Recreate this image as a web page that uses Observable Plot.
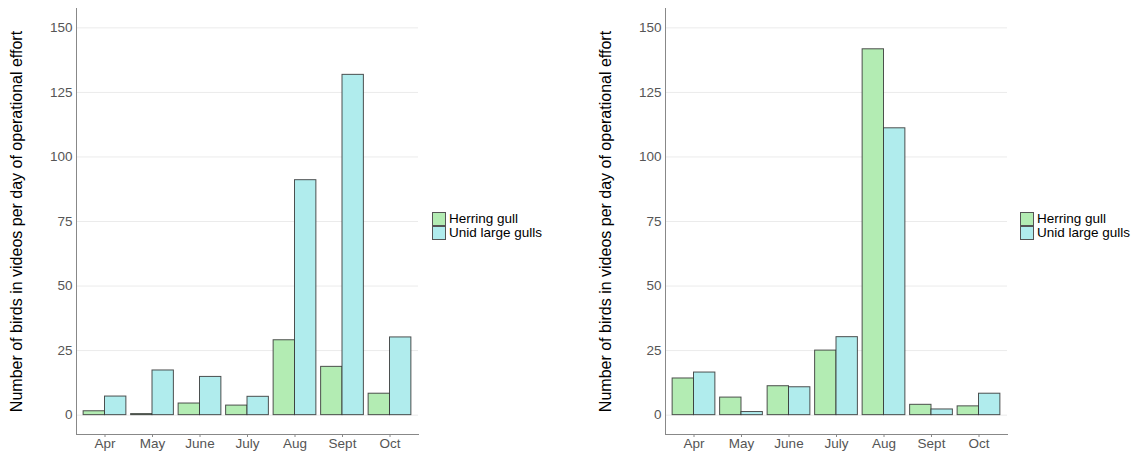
<!DOCTYPE html>
<html>
<head>
<meta charset="utf-8">
<script src="https://cdn.jsdelivr.net/npm/d3@7"></script>
<script src="https://cdn.jsdelivr.net/npm/@observablehq/plot@0.6"></script>
<style>
  html, body { margin: 0; padding: 0; background: #fff; }
  #wrap { position: relative; width: 1133px; height: 451px; font-family: "Liberation Sans", Arial, sans-serif; }
  .panel { position: absolute; top: 0; }
  .legend { position: absolute; top: 212px; font-size: 13.5px; color: #000; line-height: 14px; white-space: nowrap; }
  .legend div { display: flex; align-items: center; height: 14px; }
  .legend span.sw { display: inline-block; width: 12px; height: 12px; border: 1px solid #555; margin-right: 3px; }
</style>
</head>
<body>
<div id="wrap"></div>
<script>
// Months on the x axis
const months = ["Apr", "May", "June", "July", "Aug", "Sept", "Oct"];
const species = ["Herring gull", "Unid large gulls"];
const speciesColors = ["#b3ecb3", "#b0eced"];
const yTicks = [0, 25, 50, 75, 100, 125, 150];
const yTitle = "Number of birds in videos per day of operational effort";

// Birds per day of operational effort, first site
const herringA = [1.5, 0.4, 4.5, 3.7, 29.0, 18.7, 8.3];
const unidA = [7.2, 17.3, 14.8, 7.1, 91.0, 131.8, 30.1];

// Birds per day of operational effort, second site
const herringB = [14.2, 6.8, 11.2, 25.0, 141.7, 4.0, 3.4];
const unidB = [16.5, 1.2, 10.8, 30.2, 111.1, 2.2, 8.3];

function rows(herring, unid) {
  const out = [];
  months.forEach((m, i) => {
    out.push({month: m, i, series: 0, species: species[0], value: herring[i]});
    out.push({month: m, i, series: 1, species: species[1], value: unid[i]});
  });
  return out;
}

// Dodged bars: each month occupies 0.9 of a unit band, split between the two species
function chart(data) {
  return Plot.plot({
    width: 430,
    height: 451,
    marginLeft: 76,
    marginRight: 12,
    marginTop: 8,
    marginBottom: 17,
    style: {fontFamily: "Liberation Sans, Arial, sans-serif", background: "#fff"},
    x: {domain: [-0.6, 6.6]},
    y: {domain: [-7.5, 157.5]},
    color: {domain: species, range: speciesColors},
    marks: [
      Plot.gridY(yTicks, {stroke: "#ebebeb", strokeOpacity: 1, strokeWidth: 1}),
      Plot.rectY(data, {
        x1: d => d.i - 0.45 + d.series * 0.45,
        x2: d => d.i + d.series * 0.45,
        y1: 0,
        y2: "value",
        fill: "species",
        stroke: "#333",
        strokeOpacity: 0.85,
        strokeWidth: 1
      }),
      Plot.axisY(yTicks, {
        tickSize: 0,
        tickPadding: 4,
        fontSize: 13.5,
        color: "#555",
        label: yTitle,
        labelAnchor: "center",
        labelArrow: "none",
        labelOffset: 66
      }),
      Plot.axisX(d3.range(months.length), {
        tickFormat: i => months[i],
        tickSize: 3,
        tickPadding: 1,
        fontSize: 13.5,
        color: "#555",
        stroke: "#888",
        label: null
      }),
      Plot.frame({anchor: "left", stroke: "#888"}),
      Plot.frame({anchor: "bottom", stroke: "#888"})
    ]
  });
}

function legend() {
  const el = document.createElement("div");
  el.className = "legend";
  species.forEach((s, k) => {
    const row = document.createElement("div");
    const sw = document.createElement("span");
    sw.className = "sw";
    sw.style.background = speciesColors[k];
    row.appendChild(sw);
    row.appendChild(document.createTextNode(s));
    el.appendChild(row);
  });
  return el;
}

const wrap = document.getElementById("wrap");
[[rows(herringA, unidA), 0, 432], [rows(herringB, unidB), 589, 431]].forEach(([data, left, legendLeft]) => {
  const p = document.createElement("div");
  p.className = "panel";
  p.style.left = left + "px";
  const svg = chart(data);
  svg.querySelectorAll("text").forEach(t => {
    if (t.textContent === yTitle) { t.setAttribute("fill", "#000"); t.style.fontSize = "16px"; }
  });
  p.appendChild(svg);
  wrap.appendChild(p);
  const lg = legend();
  lg.style.left = (left + legendLeft) + "px";
  wrap.appendChild(lg);
});
</script>
</body>
</html>
